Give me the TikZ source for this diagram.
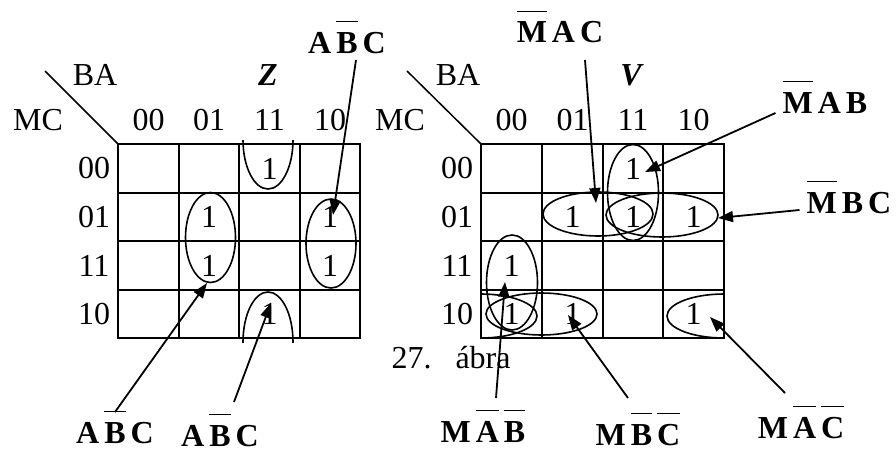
\documentclass[tikz,border=0pt]{standalone}
\usepackage{fontspec}
\setmainfont{Liberation Serif}
\usetikzlibrary{arrows.meta}
\newcommand\ov[1]{\setbox0\hbox{#1}\rlap{\rule[\dimexpr\ht0+10pt\relax]{\wd0}{1.3pt}}\box0}

\begin{document}
\begin{tikzpicture}[x=1pt, y=-1pt, font=\fontsize{32}{38}\selectfont,
        gridline/.style = {line width=2.5pt},
        grp/.style = {line width=1.6pt},
        arr/.style = {line width=1.8pt, -{Triangle[length=15pt,width=11pt]}},
        term/.style = {font=\fontsize{32}{38}\selectfont\bfseries, anchor=base, inner sep=0pt}]
        \useasboundingbox (0,0) rectangle (896,452);

        % Z
        \draw[gridline] (118,144) rectangle (360,338);
        \foreach \x in {179,239,300} \draw[gridline] (\x,144) -- (\x,338);
        \foreach \y in {193,241,290} \draw[gridline] (118,\y) -- (360,\y);
        \draw[line width=1.5pt] (45,71) -- (118,144);

        \node (zba) at (95,75) {BA};
        \node (zmc) at (38,120) {MC};
        \node (zname) at (268,75) {\textbf{\textit{Z}}};
        \node (zc1) at (148.5,120) {00};
        \node (zc2) at (209,120) {01};
        \node (zc3) at (269.5,120) {11};
        \node (zc4) at (330,120) {10};
        \node (zr1) at (94,168.5) {00};
        \node (zr2) at (94,217) {01};
        \node (zr3) at (94,265.5) {11};
        \node (zr4) at (94,314) {10};

        \node (z1) at (269.5,168.5) {1};
        \node (z2) at (209,217) {1};
        \node (z3) at (209,265.5) {1};
        \node (z4) at (330,217) {1};
        \node (z5) at (330,265.5) {1};
        \node (z6) at (269.5,314) {1};

        \draw[grp] (210.5,237.5) ellipse (25 and 45);
        \draw[grp] (331,243.5) ellipse (25 and 44.5);
        \begin{scope}
            \clip (230,140) rectangle (310,200);
            \draw[grp] (268,140) ellipse (25 and 49);
        \end{scope}
        \begin{scope}
            \clip (230,280) rectangle (310,342);
            \draw[grp] (268,342) ellipse (25 and 50);
        \end{scope}

        % V
        \draw[gridline] (481,144) rectangle (724,338);
        \foreach \x in {542,603,663} \draw[gridline] (\x,144) -- (\x,338);
        \foreach \y in {193,241,290} \draw[gridline] (481,\y) -- (724,\y);
        \draw[line width=1.5pt] (407,71) -- (481,144);

        \node (vba) at (458,75) {BA};
        \node (vmc) at (400,120) {MC};
        \node (vname) at (632,75) {\textbf{\textit{V}}};
        \node (vc1) at (511.5,120) {00};
        \node (vc2) at (572.5,120) {01};
        \node (vc3) at (633,120) {11};
        \node (vc4) at (693.5,120) {10};
        \node (vr1) at (457,168.5) {00};
        \node (vr2) at (457,217) {01};
        \node (vr3) at (457,265.5) {11};
        \node (vr4) at (457,314) {10};

        \node (v1) at (633,168.5) {1};
        \node (v2) at (572.5,217) {1};
        \node (v3) at (633,217) {1};
        \node (v4) at (693.5,217) {1};
        \node (v5) at (511.5,265.5) {1};
        \node (v6) at (511.5,314) {1};
        \node (v7) at (572.5,314) {1};
        \node (v8) at (693.5,314) {1};

        \draw[grp] (633,192.5) ellipse (25.5 and 48);
        \draw[grp] (598,214) ellipse (55 and 22);
        \draw[grp] (662,215) ellipse (56 and 22);
        \draw[grp] (512,282.5) ellipse (25.5 and 47.5);
        \draw[grp] (541.5,314) ellipse (55.5 and 21);
        \begin{scope}
            \clip (660,280) rectangle (724,345);
            \draw[grp] (724,316) ellipse (57 and 22);
        \end{scope}
        \begin{scope}
            \clip (481,280) rectangle (545,345);
            \draw[grp] (481,316) ellipse (56 and 22);
        \end{scope}

        \node[anchor=base west] (cap) at (388,368) {27.\hspace{24pt}ábra};

        % terms
        \node[term] (tz1) at (347,53) {A\kern5pt\ov{B}\kern5pt C};
        \node[term] (tz2) at (115,443) {A\kern5pt\ov{B}\kern5pt C};
        \node[term] (tz3) at (220,446) {A\kern5pt\ov{B}\kern5pt C};
        \node[term] (tv1) at (560,43) {\ov{M}\kern5pt A\kern5pt C};
        \node[term] (tv2) at (825,113) {\ov{M}\kern5pt A\kern5pt B};
        \node[term] (tv3) at (849,213) {\ov{M}\kern5pt B\kern5pt C};
        \node[term] (tv4) at (483,442) {M\kern5pt\ov{A}\kern5pt\ov{B}};
        \node[term] (tv5) at (638,445) {M\kern5pt\ov{B}\kern5pt\ov{C}};
        \node[term] (tv6) at (801,438) {M\kern5pt\ov{A}\kern5pt\ov{C}};

        \coordinate (pz1) at (333,215);
        \coordinate (pz2) at (207,283);
        \coordinate (pz3) at (271,303);
        \coordinate (pv1) at (596,203);
        \coordinate (pv2) at (645,172);
        \coordinate (pv3) at (718,218);
        \coordinate (pv4) at (505,282);
        \coordinate (pv5) at (568,315);
        \coordinate (pv6) at (710,317);

        \draw[arr] ([xshift=9pt,yshift=-7pt]tz1.base) -- (pz1);
        \draw[arr] ([yshift=31pt]tz2.base) -- (pz2);
        \draw[arr] ([xshift=14pt,yshift=44pt]tz3.base) -- (pz3);
        \draw[arr] ([xshift=25pt,yshift=-17pt]tv1.base) -- (pv1);
        \draw[arr] ([xshift=-7pt]tv2.base west) -- (pv2);
        \draw[arr] ([xshift=-7pt,yshift=3pt]tv3.base west) -- (pv3);
        \draw[arr] ([xshift=13pt,yshift=44pt]tv4.base) -- (pv4);
        \draw[arr] ([xshift=-10pt,yshift=47pt]tv5.base) -- (pv5);
        \draw[arr] ([xshift=-16pt,yshift=45pt]tv6.base) -- (pv6);
    \end{tikzpicture}
\end{document}
